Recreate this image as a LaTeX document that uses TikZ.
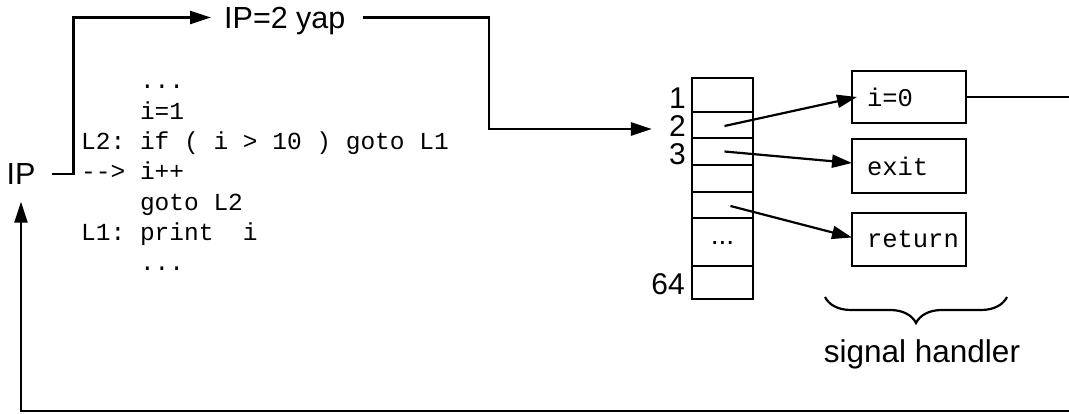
\documentclass[tikz,border=0pt]{standalone}
\usepackage{fontspec}
\setmainfont{Liberation Sans}
\newfontfamily\codefont{Liberation Mono}
\usetikzlibrary{arrows.meta,decorations.pathreplacing}

\begin{document}
\begin{tikzpicture}[x=1pt,y=-1pt,
  wire/.style={line width=2.5pt},
  arr/.style={wire,-{Triangle[length=21pt,width=13pt]}},
  sarr/.style={line width=2.2pt,-{Triangle[length=20pt,width=13pt]}},
  lbl/.style={font=\fontsize{30.5}{31}\selectfont,inner sep=0pt},
  num/.style={font=\fontsize{30}{30}\selectfont,inner sep=0pt,anchor=east},
  codeline/.style={font=\codefont\fontsize{24.5}{30}\selectfont,anchor=base west,inner sep=0pt},
  cell/.style={draw,line width=2.5pt,minimum width=61pt,inner sep=0pt,outer sep=0pt,anchor=north west},
  hbox/.style={draw,line width=2.5pt,minimum width=114pt,inner sep=0pt,outer sep=0pt,
    anchor=north west,text width=84pt,align=left,font=\codefont\fontsize{25.5}{30}\selectfont}]

\useasboundingbox (0,0) rectangle (1069,414);

% instruction pointer and its new value
\node[lbl] (ip) at (21,174) {IP};
\node[lbl,anchor=base west] (yap) at (224,28.5) {IP=2 yap};

% program text
\node[codeline] (l0) at (81,89)    {\ \ \ \ ...};
\node[codeline] (l1) at (81,119.3) {\ \ \ \ i=1};
\node[codeline] (l2) at (81,149.6) {L2:\ if\ (\ i\ >\ 10\ )\ goto\ L1};
\node[codeline] (l3) at (81,179.9) {-\kern0pt->\ i++};
\node[codeline] (l4) at (81,210.2) {\ \ \ \ goto\ L2};
\node[codeline] (l5) at (81,240.5) {L1:\ print\ \ i};
\node[codeline] (l6) at (81,270.8) {\ \ \ \ ...};

% signal table
\node[cell,minimum height=34pt] (c1) at (692,78)  {};
\node[cell,minimum height=26pt] (c2) at (692,112) {};
\node[cell,minimum height=27pt] (c3) at (692,138) {};
\node[cell,minimum height=27pt] (c4) at (692,165) {};
\node[cell,minimum height=26pt] (c5) at (692,192) {};
\node[cell,minimum height=48pt] (c6) at (692,218) {};
\node[cell,minimum height=33pt] (c7) at (692,266) {};
\node[font=\fontsize{28}{30}\selectfont,inner sep=0pt,anchor=base] (dots) at (722.5,245) {...};

\node[num] (n1)  at (686,98)    {1};
\node[num] (n2)  at (686,126.5) {2};
\node[num] (n3)  at (686,154)   {3};
\node[num] (n64) at (685,284)   {64};

% handlers
\node[hbox,minimum height=52pt] (h0)   at (852,71)  {i=0};
\node[hbox,minimum height=54pt] (hex)  at (852,139) {exit};
\node[hbox,minimum height=53pt] (hret) at (852,213) {return};

\draw[decorate,decoration={brace,amplitude=26pt,mirror},line width=2.2pt]
  (825,297) -- (1007,297);
\node[font=\fontsize{31.5}{32}\selectfont,inner sep=0pt,anchor=base] (sh) at (922,362) {signal handler};

% connectors
\draw[arr] ([xshift=16pt]ip.east) -- ++(22,0) |- ([xshift=-13pt,yshift=11pt]yap.base west);
\draw[arr] ([xshift=17pt,yshift=11pt]yap.base east) -| (489,129) -- ([xshift=-17pt]n2.west |- 0,129);
\draw[sarr] ([xshift=2pt,yshift=-1pt]c2.center) -- ([xshift=5pt]h0.west);
\draw[sarr] ([xshift=2pt]c3.center) -- ([yshift=3pt]hex.west);
\draw[sarr] ([xshift=8pt,yshift=-1pt]c5.center) -- ([yshift=2pt]hret.west);
\draw[arr] (h0.east) -- ++(125,0) |- (ip.south |- 0,411) -- ([yshift=-17pt]ip.south);

\end{tikzpicture}
\end{document}
